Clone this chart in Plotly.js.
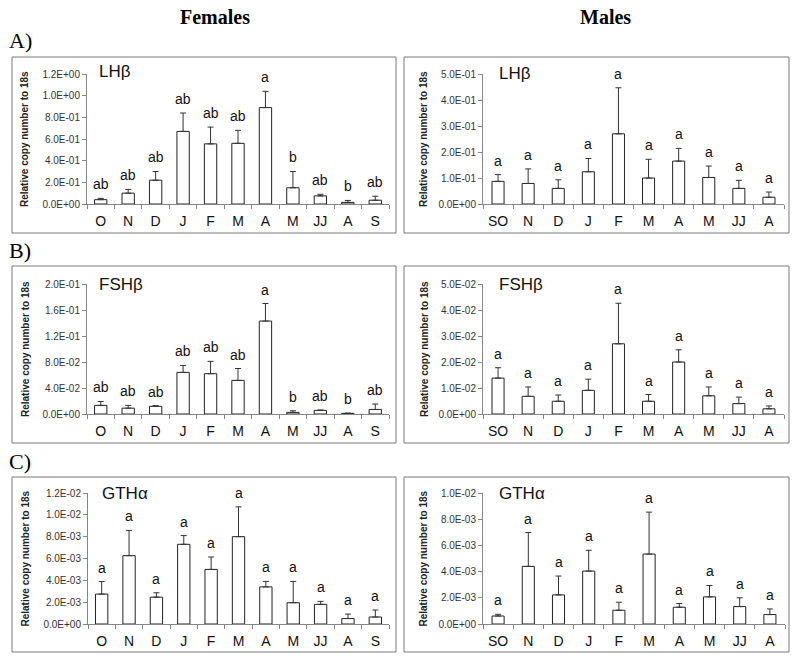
<!DOCTYPE html>
<html>
<head>
<meta charset="utf-8">
<script src="https://cdn.plot.ly/plotly-3.0.1.min.js"></script>
<style>html,body{margin:0;padding:0;background:#fff;}#chart{width:800px;height:662px;}</style>
</head>
<body>
<div id="chart"></div>
<script>
// ---------- data ----------
const femaleMonths = ['O','N','D','J','F','M','A','M','JJ','A','S'];
const maleMonths   = ['SO','N','D','J','F','M','A','M','JJ','A'];

// LHβ
const femaleLH        = [0.040, 0.100, 0.220, 0.670, 0.555, 0.560, 0.890, 0.150, 0.075, 0.015, 0.035];
const femaleLHErr     = [0.012, 0.035, 0.080, 0.170, 0.155, 0.120, 0.150, 0.150, 0.015, 0.018, 0.037];
const femaleLHLetters = ['ab','ab','ab','ab','ab','ab','a','b','ab','b','ab'];
const maleLH          = [0.087, 0.079, 0.060, 0.124, 0.270, 0.100, 0.165, 0.102, 0.060, 0.026];
const maleLHErr       = [0.026, 0.056, 0.033, 0.051, 0.177, 0.072, 0.049, 0.044, 0.031, 0.020];
const maleLHLetters   = ['a','a','a','a','a','a','a','a','a','a'];

// FSHβ
const femaleFSH        = [0.0133, 0.0090, 0.0118, 0.0640, 0.0620, 0.0517, 0.1430, 0.0025, 0.0056, 0.0010, 0.0070];
const femaleFSHErr     = [0.0060, 0.0043, 0.0010, 0.0107, 0.0190, 0.0183, 0.0270, 0.0025, 0.0005, 0.0003, 0.0083];
const femaleFSHLetters = ['ab','ab','ab','ab','ab','ab','a','b','ab','b','ab'];
const maleFSH          = [0.0138, 0.0068, 0.0049, 0.0091, 0.0270, 0.0049, 0.0200, 0.0070, 0.0040, 0.0020];
const maleFSHErr       = [0.0040, 0.0036, 0.0024, 0.0043, 0.0156, 0.0026, 0.0047, 0.0034, 0.0025, 0.0011];
const maleFSHLetters   = ['a','a','a','a','a','a','a','a','a','a'];

// GTHα
const femaleGTH        = [0.00274, 0.00626, 0.00246, 0.00730, 0.00500, 0.00800, 0.00340, 0.00195, 0.00180, 0.00050, 0.00064];
const femaleGTHErr     = [0.00115, 0.00231, 0.00040, 0.00080, 0.00114, 0.00273, 0.00050, 0.00195, 0.00027, 0.00041, 0.00064];
const femaleGTHLetters = ['a','a','a','a','a','a','a','a','a','a','a'];
const maleGTH          = [0.00061, 0.00440, 0.00222, 0.00404, 0.00105, 0.00534, 0.00128, 0.00207, 0.00133, 0.00072];
const maleGTHErr       = [0.00013, 0.00258, 0.00144, 0.00159, 0.00061, 0.00320, 0.00028, 0.00087, 0.00067, 0.00043];
const maleGTHLetters   = ['a','a','a','a','a','a','a','a','a','a'];

// tick labels
const femaleLHTicks     = [0, 0.2, 0.4, 0.6, 0.8, 1.0, 1.2];
const femaleLHTickText  = ['0.0E+00','2.0E-01','4.0E-01','6.0E-01','8.0E-01','1.0E+00','1.2E+00'];
const maleLHTicks       = [0, 0.1, 0.2, 0.3, 0.4, 0.5];
const maleLHTickText    = ['0.0E+00','1.0E-01','2.0E-01','3.0E-01','4.0E-01','5.0E-01'];
const femaleFSHTicks    = [0, 0.04, 0.08, 0.12, 0.16, 0.2];
const femaleFSHTickText = ['0.0E+00','4.0E-02','8.0E-02','1.2E-01','1.6E-01','2.0E-01'];
const maleFSHTicks      = [0, 0.01, 0.02, 0.03, 0.04, 0.05];
const maleFSHTickText   = ['0.0E+00','1.0E-02','2.0E-02','3.0E-02','4.0E-02','5.0E-02'];
const femaleGTHTicks    = [0, 0.002, 0.004, 0.006, 0.008, 0.010, 0.012];
const femaleGTHTickText = ['0.0E+00','2.0E-03','4.0E-03','6.0E-03','8.0E-03','1.0E-02','1.2E-02'];
const maleGTHTicks      = [0, 0.002, 0.004, 0.006, 0.008, 0.010];
const maleGTHTickText   = ['0.0E+00','2.0E-03','4.0E-03','6.0E-03','8.0E-03','1.0E-02'];

const yTitle = 'Relative copy number to 18s';
const columnTitles = ['Females', 'Males'];
const rowLabels = ['A)', 'B)', 'C)'];

// ---------- layout helpers ----------
const W = 800, H = 662;
const px = x => x / W;
const py = y => 1 - y / H;

const panels = [
  {gene:'LHβ',  cats:femaleMonths, vals:femaleLH,  errs:femaleLHErr,  letters:femaleLHLetters,  tv:femaleLHTicks,  tt:femaleLHTickText,  x0:87,  x1:389, y0:74,  y1:204, box:[12,57,396,233],  gx:97,  gy:72,  tx:25,  bw:0.45},
  {gene:'LHβ',  cats:maleMonths,   vals:maleLH,    errs:maleLHErr,    letters:maleLHLetters,    tv:maleLHTicks,    tt:maleLHTickText,    x0:483, x1:784, y0:74,  y1:204, box:[404,57,789,233], gx:497, gy:74,  tx:424, bw:0.4},
  {gene:'FSHβ', cats:femaleMonths, vals:femaleFSH, errs:femaleFSHErr, letters:femaleFSHLetters, tv:femaleFSHTicks, tt:femaleFSHTickText, x0:87,  x1:389, y0:284, y1:414, box:[12,266,396,443], gx:97,  gy:284, tx:25,  bw:0.45},
  {gene:'FSHβ', cats:maleMonths,   vals:maleFSH,   errs:maleFSHErr,   letters:maleFSHLetters,   tv:maleFSHTicks,   tt:maleFSHTickText,   x0:483, x1:784, y0:284, y1:414, box:[404,266,789,443],gx:497, gy:284, tx:424, bw:0.4},
  {gene:'GTHα', cats:femaleMonths, vals:femaleGTH, errs:femaleGTHErr, letters:femaleGTHLetters, tv:femaleGTHTicks, tt:femaleGTHTickText, x0:88,  x1:389, y0:493, y1:624, box:[12,477,396,652], gx:100, gy:493, tx:25,  bw:0.45},
  {gene:'GTHα', cats:maleMonths,   vals:maleGTH,   errs:maleGTHErr,   letters:maleGTHLetters,   tv:maleGTHTicks,   tt:maleGTHTickText,   x0:483, x1:785, y0:493, y1:624, box:[404,477,789,652],gx:497, gy:493, tx:423, bw:0.4}
];

const axisGray = '#858585';
const traces = [];
const layout = {
  width: W, height: H,
  margin: {l:0, r:0, t:0, b:0},
  paper_bgcolor: '#fff', plot_bgcolor: 'rgba(0,0,0,0)',
  showlegend: false,
  font: {family: 'Liberation Sans, Arial, sans-serif', color: '#222'},
  annotations: [], shapes: []
};

panels.forEach((p, k) => {
  const n = k === 0 ? '' : String(k + 1);
  const xs = p.cats.map((_, i) => i);
  traces.push({
    type: 'bar', x: xs, y: p.vals,
    xaxis: 'x' + n, yaxis: 'y' + n,
    width: p.bw,
    marker: {color: '#ffffff', line: {color: '#222', width: 1}},
    error_y: {type: 'data', symmetric: false, array: p.errs, arrayminus: p.errs.map(() => 0),
              color: '#333', thickness: 1, width: 3},
    hoverinfo: 'skip', cliponaxis: false
  });
  layout['xaxis' + n] = {
    domain: [px(p.x0), px(p.x1)], anchor: 'y' + n,
    range: [-0.5, p.cats.length - 0.5],
    tickmode: 'array', tickvals: xs, ticktext: p.cats,
    ticks: '', showline: true, linecolor: axisGray, linewidth: 1,
    showgrid: false, zeroline: false, fixedrange: true,
    tickfont: {size: 14, color: '#111'}, ticklabelstandoff: 4,
    minor: {tickmode: 'array', tickvals: p.cats.map((_, i) => i - 0.5).concat([p.cats.length - 0.5]),
            ticks: 'outside', ticklen: 4, tickcolor: axisGray, tickwidth: 1, showgrid: false}
  };
  layout['yaxis' + n] = {
    domain: [py(p.y1), py(p.y0)], anchor: 'x' + n,
    range: [0, p.tv[p.tv.length - 1]],
    tickmode: 'array', tickvals: p.tv, ticktext: p.tt,
    ticks: 'outside', ticklen: 4, tickcolor: axisGray,
    showline: true, linecolor: axisGray, linewidth: 1,
    showgrid: false, zeroline: false, fixedrange: true,
    tickfont: {size: 10, color: '#333'}
  };
  // frame
  layout.shapes.push({type: 'rect', xref: 'paper', yref: 'paper',
    x0: px(p.box[0]), x1: px(p.box[2]), y0: py(p.box[3]), y1: py(p.box[1]),
    line: {color: '#7a7a7a', width: 1}, fillcolor: 'rgba(0,0,0,0)', layer: 'below'});
  // gene name
  layout.annotations.push({xref: 'paper', yref: 'paper', x: px(p.gx), y: py(p.gy),
    xanchor: 'left', yanchor: 'middle', showarrow: false, text: p.gene,
    font: {size: 17, color: '#111'}});
  // y title
  layout.annotations.push({xref: 'paper', yref: 'paper', x: px(p.tx), y: py((p.y0 + p.y1) / 2),
    xanchor: 'center', yanchor: 'middle', showarrow: false, textangle: -90,
    text: '<b>' + yTitle + '</b>', font: {size: 10, color: '#222'}});
  // significance letters
  p.letters.forEach((t, i) => {
    layout.annotations.push({xref: 'x' + n, yref: 'y' + n, x: i, y: p.vals[i] + p.errs[i],
      xanchor: 'center', yanchor: 'bottom', yshift: 4, showarrow: false, text: t,
      font: {size: 14, color: '#111'}});
  });
});

// column titles and row labels
const serif = 'Liberation Serif, Times New Roman, serif';
[[215, columnTitles[0]], [605, columnTitles[1]]].forEach(([x, t]) => {
  layout.annotations.push({xref: 'paper', yref: 'paper', x: px(x), y: py(17),
    xanchor: 'center', yanchor: 'middle', showarrow: false, text: '<b>' + t + '</b>',
    font: {family: serif, size: 20, color: '#000'}});
});
[[41, rowLabels[0]], [250, rowLabels[1]], [461, rowLabels[2]]].forEach(([y, t]) => {
  layout.annotations.push({xref: 'paper', yref: 'paper', x: px(7), y: py(y),
    xanchor: 'left', yanchor: 'middle', showarrow: false, text: t,
    font: {family: serif, size: 22, color: '#000'}});
});

Plotly.newPlot('chart', traces, layout, {staticPlot: true, displayModeBar: false});
</script>
</body>
</html>
